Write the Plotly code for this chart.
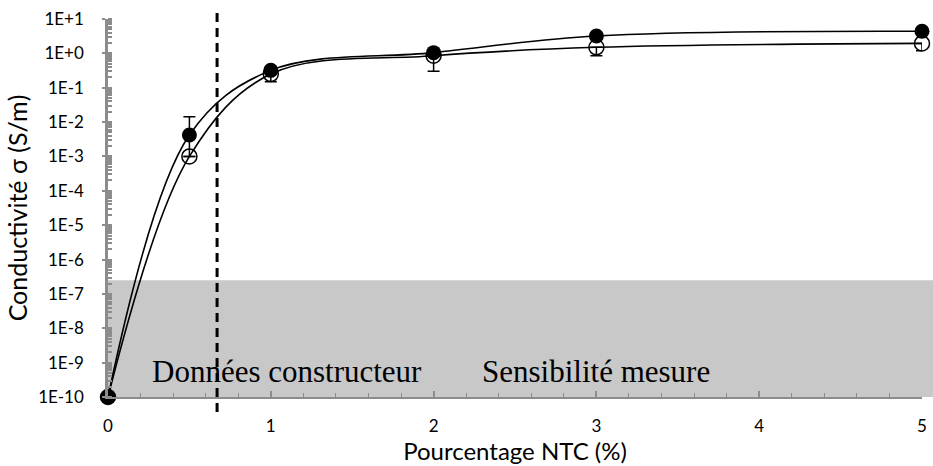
import plotly.graph_objects as go

# NTC content (%)
pourcentage = [0, 0.5, 1, 2, 3, 5]

# filled circles
sigma_plein = [1e-10, 4.2e-3, 0.32, 1.05, 3.2, 4.4]
err_plein_plus = [0, 1.0e-2, 0, 0, 0, 0]
err_plein_moins = [0, 3.2e-3, 0.05, 0, 0, 0]

# open circles
sigma_vide = [1e-10, 1.0e-3, 0.25, 0.85, 1.5, 1.95]
err_vide_plus = [0, 0, 0, 0, 0, 0]
err_vide_moins = [0, 0, 0.1, 0.55, 0.65, 0.75]

y_ticks = [1e1, 1e0, 1e-1, 1e-2, 1e-3, 1e-4, 1e-5, 1e-6, 1e-7, 1e-8, 1e-9, 1e-10]
y_labels = ["1E+1", "1E+0", "1E-1", "1E-2", "1E-3", "1E-4", "1E-5", "1E-6",
            "1E-7", "1E-8", "1E-9", "1E-10"]

seuil_constructeur = 0.67
sensibilite = 2.5e-7

Y_MIN, Y_MAX = -10, 1
AXIS_GREY = '#8c8c8c'

fig = go.Figure()

# measurement sensitivity band (runs a little past x=5, like the original)
fig.add_shape(
    type='rect', xref='paper', yref='y',
    x0=0, x1=1.014, y0=1e-10, y1=sensibilite,
    fillcolor='#c8c8c8', line_width=0, layer='below'
)

fig.add_trace(go.Scatter(
    x=pourcentage, y=sigma_vide,
    mode='lines+markers',
    line=dict(color='black', width=1.6, shape='spline', smoothing=1.0),
    marker=dict(symbol='circle-open', size=15, color='black', line=dict(width=1.5)),
    error_y=dict(type='data', symmetric=False, array=err_vide_plus,
                 arrayminus=err_vide_moins, color='black', thickness=1.5, width=6),
    cliponaxis=False, showlegend=False
))

fig.add_trace(go.Scatter(
    x=pourcentage, y=sigma_plein,
    mode='lines+markers',
    line=dict(color='black', width=1.6, shape='spline', smoothing=1.0),
    marker=dict(symbol='circle', size=15, color='black'),
    error_y=dict(type='data', symmetric=False, array=err_plein_plus,
                 arrayminus=err_plein_moins, color='black', thickness=1.5, width=6),
    cliponaxis=False, showlegend=False
))

# manufacturer threshold
fig.add_shape(
    type='line', xref='x', yref='paper',
    x0=seuil_constructeur, x1=seuil_constructeur, y0=-0.04, y1=1.025,
    line=dict(color='black', width=3, dash='9px,6px')
)

fig.add_annotation(x=1.1, y=-9.25, xref='x', yref='y', text='Données constructeur',
                   showarrow=False, font=dict(family='Liberation Serif', size=31, color='black'))
fig.add_annotation(x=3.0, y=-9.25, xref='x', yref='y', text='Sensibilité mesure',
                   showarrow=False, font=dict(family='Liberation Serif', size=31, color='black'))

fig.update_layout(
    width=933, height=466,
    margin=dict(l=108, r=11, t=19, b=69, autoexpand=False),
    plot_bgcolor='rgba(0,0,0,0)', paper_bgcolor='white',
    font=dict(family='Lato', size=17, color='black'),
    xaxis=dict(
        range=[0, 5], tickvals=[0, 1, 2, 3, 4, 5],
        showgrid=False, zeroline=False, automargin=False,
        showline=True, linecolor=AXIS_GREY, linewidth=1.5,
        ticks='inside', ticklen=6, tickcolor=AXIS_GREY, tickwidth=1.5,
        minor=dict(ticks='inside', dtick=0.2, ticklen=4, tickcolor=AXIS_GREY, tickwidth=1),
        title=dict(text='Pourcentage NTC (%)', font=dict(size=24), standoff=6),
        ticklabelstandoff=13, ticklabeloverflow='allow',
    ),
    yaxis=dict(
        type='log', range=[Y_MIN, Y_MAX],
        tickvals=y_ticks, ticktext=y_labels,
        showgrid=False, zeroline=False, automargin=False,
        showline=True, linecolor=AXIS_GREY, linewidth=2.5,
        ticks='outside', ticklen=3, tickcolor=AXIS_GREY, tickwidth=2,
        minor=dict(ticks='inside', dtick='D1', ticklen=4, tickcolor=AXIS_GREY, tickwidth=1.5),
        title=dict(text='Conductivité σ (S/m)', font=dict(size=25), standoff=4),
        ticklabelstandoff=15, ticklabeloverflow='allow',
    ),
)

# the page body keeps its default 8px margin otherwise
fig.write_html("out.html", config={'displayModeBar': False},
               post_script="document.body.style.margin = '0';")
